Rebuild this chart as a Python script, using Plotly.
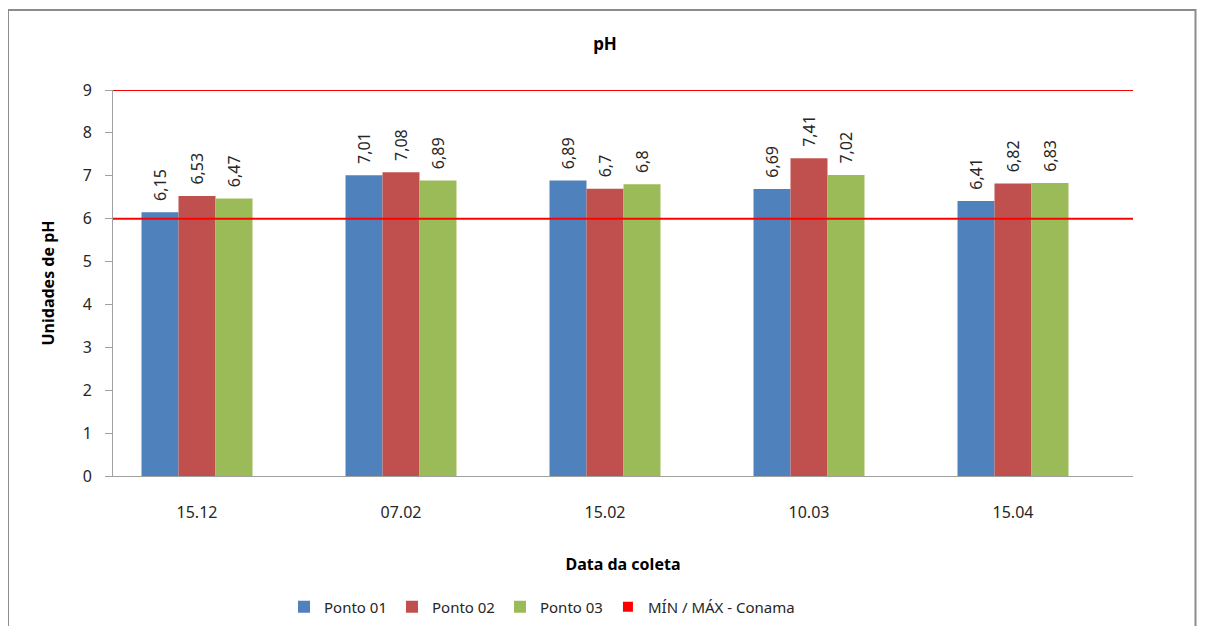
import plotly.graph_objects as go

categories = ["15.12", "07.02", "15.02", "10.03", "15.04"]
ponto01 = [6.15, 7.01, 6.89, 6.69, 6.41]
ponto02 = [6.53, 7.08, 6.70, 7.41, 6.82]
ponto03 = [6.47, 6.89, 6.80, 7.02, 6.83]
limits = [6, 9]
series_names = ["Ponto 01", "Ponto 02", "Ponto 03"]
colors = ["#4F81BD", "#C0504D", "#9BBB59"]
limit_name = "MÍN / MÁX - Conama"
limit_color = "#FF0000"

FONT = "Noto Sans"
OFF = 8  # page body margin
FIG_W, FIG_H = 1205 - 2 * OFF, 634 - 2 * OFF

def fmt(v):
    s = f"{v:.2f}".rstrip("0").rstrip(".")
    return "\u00a0\u00a0" + s.replace(".", ",")

fig = go.Figure()
for name, vals, c in zip(series_names, [ponto01, ponto02, ponto03], colors):
    fig.add_trace(go.Bar(
        x=categories, y=vals, name=name, marker=dict(color=c, line=dict(width=0)),
        text=[fmt(v) for v in vals], textposition="outside", textangle=-90,
        textfont=dict(size=16, color="#262626", family=FONT),
        cliponaxis=False, constraintext="none",
    ))

# legend entry for limits
fig.add_trace(go.Scatter(
    x=[None], y=[None], mode="markers", name=limit_name,
    marker=dict(symbol="square", size=10, color=limit_color),
))

for lv in limits:
    fig.add_shape(type="line", xref="paper", yref="y", x0=0, x1=1, y0=lv, y1=lv,
                  line=dict(color=limit_color, width=2))

# plot area in screen pixels
SL, SR, ST, SB = 113, 1133, 90, 476
L, R, T, B = SL - OFF, SR - OFF, ST - OFF, SB - OFF
W = R - L
H = B - T
def px(x):
    return (x - SL) / W
def py(y):
    return (SB - y) / H
fig.add_shape(type="rect", xref="paper", yref="paper",
              x0=px(8), x1=px(1195.5), y0=py(660), y1=py(10),
              line=dict(color="#8c8c8c", width=2), layer="below")

# category centres sit slightly left of symmetric in the original
shift = 18 / (W / len(categories))

fig.update_layout(
    width=FIG_W, height=FIG_H,
    margin=dict(l=L, r=FIG_W - R, t=T, b=FIG_H - B, autoexpand=False),
    paper_bgcolor="white", plot_bgcolor="white",
    font=dict(family=FONT, color="#262626", size=16),
    title=dict(text="<b>pH</b>", x=px(605), xref="paper", xanchor="center",
               y=1 - (44 - OFF) / FIG_H, yanchor="middle", font=dict(size=17, color="#000000")),
    barmode="group", bargap=0.456, bargroupgap=0,
    showlegend=True,
    legend=dict(orientation="h", x=px(284), xanchor="left", y=py(607), yanchor="middle",
                font=dict(size=15, color="#262626"), itemwidth=30, tracegroupgap=0,
                bgcolor="rgba(0,0,0,0)"),
    xaxis=dict(showline=True, linecolor="#a0a0a0", linewidth=1, ticks="", showgrid=False,
               range=[-0.5 + shift, len(categories) - 0.5 + shift],
               tickfont=dict(size=16, color="#262626"), ticklabelstandoff=22,
               title=dict(text="<b>Data da coleta</b>", font=dict(size=16, color="#000000"), standoff=36)),
    yaxis=dict(range=[0, 9], dtick=1, showline=True, linecolor="#a0a0a0", linewidth=1,
               ticks="outside", ticklen=7, tickcolor="#a0a0a0", showgrid=False, zeroline=False,
               tickfont=dict(size=16, color="#262626"), ticklabelstandoff=10,
               title=dict(text="<b>Unidades de pH</b>", font=dict(size=16, color="#000000"), standoff=24)),
)

fig.write_html("out.html")
